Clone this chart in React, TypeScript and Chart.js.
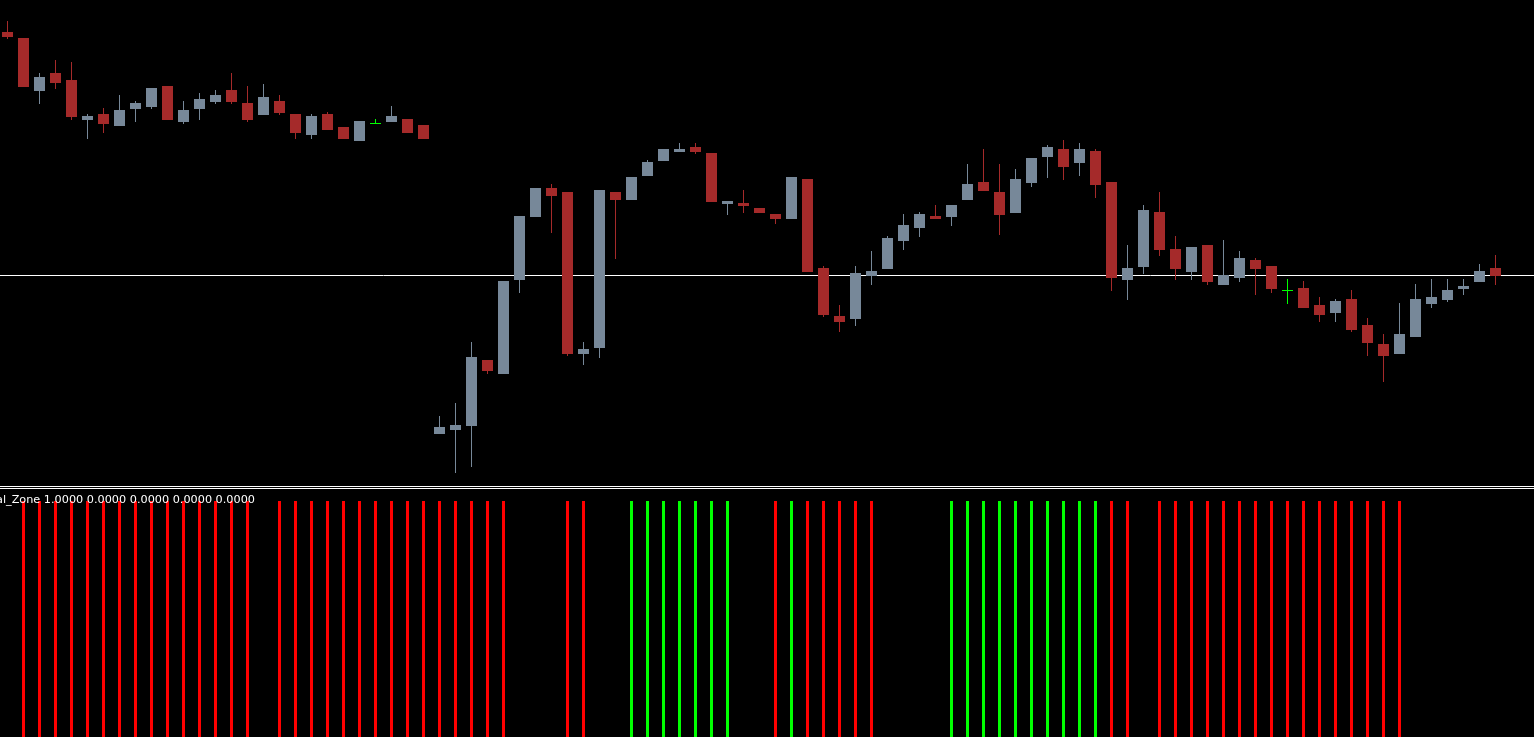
import React, { useEffect, useRef } from "react";
import { Chart, registerables } from "chart.js";

Chart.register(...registerables);

// ---- Price data (one entry per candle, oldest first) ----
const openPrices = [
  1.1244, 1.1238, 1.1185, 1.1203, 1.1196, 1.1156, 1.1162, 1.1150, 1.1167, 1.1169,
  1.1190, 1.1154, 1.1167, 1.1174, 1.1186, 1.1173, 1.1161, 1.1175, 1.1162, 1.1141,
  1.1162, 1.1149, 1.1135, 1.11525, 1.1154, 1.1157, 1.1151, 1.0842, 1.0846, 1.0850,
  1.0916, 1.0902, 1.0996, 1.1059, 1.1088, 1.1084, 1.0922, 1.0928, 1.1084, 1.1076,
  1.1100, 1.1115, 1.1124, 1.1129, 1.1123, 1.1072, 1.1073, 1.1068, 1.1062, 1.1057,
  1.1097, 1.1008, 1.0960, 1.0957, 1.1000, 1.1007, 1.1035, 1.1048, 1.1060, 1.1059,
  1.1076, 1.1094, 1.1084, 1.1063, 1.1093, 1.1119, 1.1127, 1.1113, 1.1125, 1.1094,
  1.0996, 1.1009, 1.1064, 1.1027, 1.1004, 1.1031, 1.0991, 1.0998, 1.1016, 1.1010,
  1.09855, 1.0988, 1.0971, 1.0963, 1.0977, 1.0951, 1.0932, 1.0922, 1.0939, 1.0972,
  1.0976, 1.0987, 1.0994, 1.1008,
];
const highPrices = [
  1.1255, 1.1238, 1.1203, 1.1216, 1.1214, 1.1162, 1.1168, 1.1181, 1.1175, 1.1188,
  1.1190, 1.1175, 1.1183, 1.1186, 1.1203, 1.1190, 1.1192, 1.1181, 1.1162, 1.1162,
  1.1164, 1.1149, 1.1155, 1.1157, 1.1170, 1.1157, 1.1151, 1.0860, 1.0873, 1.0934,
  1.0916, 1.0995, 1.1060, 1.1088, 1.1092, 1.1084, 1.0934, 1.1086, 1.1084, 1.1099,
  1.1116, 1.1127, 1.1133, 1.1133, 1.1123, 1.1075, 1.1086, 1.1068, 1.1062, 1.1099,
  1.1097, 1.1010, 1.0971, 1.1010, 1.1025, 1.1040, 1.1062, 1.1064, 1.1071, 1.1071,
  1.1112, 1.1127, 1.1112, 1.1107, 1.1118, 1.1131, 1.1136, 1.1133, 1.1127, 1.1094,
  1.1031, 1.1071, 1.1084, 1.1040, 1.1029, 1.1031, 1.1036, 1.1025, 1.1018, 1.1010,
  1.0997, 1.0995, 1.0979, 1.0977, 1.0986, 1.0958, 1.0942, 1.0973, 1.0992, 1.0997,
  1.0997, 1.0997, 1.1012, 1.1021,
];
const lowPrices = [
  1.1237, 1.1189, 1.1172, 1.1187, 1.1156, 1.1137, 1.1143, 1.1150, 1.1154, 1.1167,
  1.1156, 1.1152, 1.1156, 1.1172, 1.1172, 1.1154, 1.1161, 1.1161, 1.1137, 1.1137,
  1.1146, 1.1137, 1.1135, 1.1152, 1.1154, 1.1143, 1.1137, 1.0842, 1.0803, 1.0809,
  1.0902, 1.0902, 1.0983, 1.1059, 1.1043, 1.0920, 1.0911, 1.0918, 1.1017, 1.1076,
  1.1100, 1.1115, 1.1124, 1.1122, 1.1074, 1.1061, 1.1063, 1.1063, 1.1052, 1.1057,
  1.1004, 1.0959, 1.0944, 1.0950, 1.0991, 1.1007, 1.1026, 1.1039, 1.1057, 1.1050,
  1.1076, 1.1085, 1.1041, 1.1063, 1.1089, 1.1098, 1.1096, 1.1100, 1.1078, 1.0985,
  1.0976, 1.1002, 1.1020, 1.0996, 1.0996, 1.0991, 1.0991, 1.0994, 1.0981, 1.0983,
  1.0972, 1.0968, 1.0954, 1.0954, 1.0944, 1.0920, 1.0894, 1.0922, 1.0939, 1.0968,
  1.0974, 1.0981, 1.0994, 1.0991,
];
const closePrices = [
  1.1239, 1.1189, 1.1199, 1.1193, 1.1159, 1.1160, 1.1152, 1.1166, 1.1173, 1.1188,
  1.1156, 1.1166, 1.1177, 1.1181, 1.1174, 1.1156, 1.1179, 1.1163, 1.1143, 1.1160,
  1.1146, 1.1137, 1.1155, 1.11525, 1.1160, 1.1143, 1.1137, 1.0849, 1.0851, 1.0919,
  1.0905, 1.0995, 1.1060, 1.1088, 1.1080, 1.0922, 1.0927, 1.1086, 1.1076, 1.1099,
  1.1114, 1.1127, 1.1127, 1.1124, 1.1074, 1.1075, 1.1070, 1.1063, 1.1057, 1.1099,
  1.1004, 1.0961, 1.0954, 1.1003, 1.1005, 1.1038, 1.1051, 1.1062, 1.1057, 1.1071,
  1.1092, 1.1085, 1.1061, 1.1097, 1.1118, 1.1129, 1.1109, 1.1127, 1.1091, 1.0998,
  1.1008, 1.1066, 1.1026, 1.1007, 1.1029, 1.0994, 1.1001, 1.1018, 1.1007, 1.0987,
  1.09855, 1.0968, 1.0961, 1.0975, 1.0946, 1.0933, 1.0920, 1.0942, 1.0977, 1.0979,
  1.0986, 1.0990, 1.1005, 1.1000,
];

// Current bid price (horizontal line)
const bidPrice = 1.1;

// ---- Indicator buffers (1 = zone active) ----
const sellZone = [
  0, 1, 1, 1, 1, 1, 1, 1, 1, 1, 1, 1, 1, 1, 1, 1, 0, 1, 1, 1,
  1, 1, 1, 1, 1, 1, 1, 1, 1, 1, 1, 1, 0, 0, 0, 1, 1, 0, 0, 0,
  0, 0, 0, 0, 0, 0, 0, 0, 1, 0, 1, 1, 1, 1, 1, 0, 0, 0, 0, 0,
  0, 0, 0, 0, 0, 0, 0, 0, 0, 1, 1, 0, 1, 1, 1, 1, 1, 1, 1, 1,
  1, 1, 1, 1, 1, 1, 1, 1, 0, 0, 0, 0, 0, 0,
];
const buyZone = [
  0, 0, 0, 0, 0, 0, 0, 0, 0, 0, 0, 0, 0, 0, 0, 0, 0, 0, 0, 0,
  0, 0, 0, 0, 0, 0, 0, 0, 0, 0, 0, 0, 0, 0, 0, 0, 0, 0, 0, 1,
  1, 1, 1, 1, 1, 1, 0, 0, 0, 1, 0, 0, 0, 0, 0, 0, 0, 0, 0, 1,
  1, 1, 1, 1, 1, 1, 1, 1, 1, 0, 0, 0, 0, 0, 0, 0, 0, 0, 0, 0,
  0, 0, 0, 0, 0, 0, 0, 0, 0, 0, 0, 0, 0, 0,
];
const indicatorLabel = "al_Zone 1.0000 0.0000 0.0000 0.0000 0.0000";

const BULL = "#778899";
const BEAR = "#a52a2a";
const DOJI = "#00ff00";
const SELL = "#ff0000";
const BUY = "#00ff00";

const W = 1534;
const TOP_H = 486;
const BOT_TOP = 489;
const BOT_H = 248;
const X_MIN = -0.46875;
const X_MAX = X_MIN + W / 16;

export default function App() {
  const topRef = useRef<HTMLCanvasElement>(null);
  const botRef = useRef<HTMLCanvasElement>(null);

  useEffect(() => {
    document.body.style.margin = "0";
    document.body.style.background = "#000";

    const idx = openPrices.map((_, i) => i);
    const isDoji = (i: number) => openPrices[i] === closePrices[i];
    const colorOf = (i: number) =>
      isDoji(i) ? DOJI : closePrices[i] > openPrices[i] ? BULL : BEAR;

    const bodyIdx = idx.filter((i) => !isDoji(i));
    const dojiIdx = idx.filter((i) => isDoji(i));

    const bidLine = {
      id: "bidLine",
      beforeDatasetsDraw(chart: any) {
        const { ctx, chartArea, scales } = chart;
        const y = Math.round(scales.y.getPixelForValue(bidPrice)) - 0.5;
        ctx.save();
        ctx.strokeStyle = "#ffffff";
        ctx.lineWidth = 1;
        ctx.beginPath();
        ctx.moveTo(chartArea.left, y);
        ctx.lineTo(chartArea.right, y);
        ctx.stroke();
        ctx.restore();
      },
    };

    const common: any = {
      responsive: false,
      animation: false,
      events: [],
      layout: { padding: 0, autoPadding: false },
      plugins: { legend: { display: false }, tooltip: { enabled: false } },
    };

    const top = new Chart(topRef.current as HTMLCanvasElement, {
      type: "bar",
      data: {
        datasets: [
          {
            type: "bar",
            data: bodyIdx.map((i) => ({ x: i, y: [openPrices[i], closePrices[i]] })),
            backgroundColor: bodyIdx.map(colorOf),
            barThickness: 11,
            borderWidth: 0,
            inflateAmount: 0,
            grouped: false,
          } as any,
          {
            type: "bar",
            data: idx.map((i) => ({ x: i, y: [lowPrices[i], highPrices[i]] })),
            backgroundColor: idx.map(colorOf),
            barThickness: 1,
            borderWidth: 0,
            inflateAmount: 0,
            grouped: false,
          } as any,
          {
            type: "line",
            data: dojiIdx.map((i) => ({ x: i, y: openPrices[i] })),
            showLine: false,
            pointStyle: "line",
            pointRadius: 5.5,
            pointHoverRadius: 5.5,
            borderColor: DOJI,
            pointBorderColor: DOJI,
            borderWidth: 1,
            pointBorderWidth: 1,
          } as any,
        ],
      },
      options: {
        ...common,
        scales: {
          x: { type: "linear", min: X_MIN, max: X_MAX, offset: false, display: false },
          y: { type: "linear", min: 1.079, max: 1.1276, display: false },
        },
      },
      plugins: [bidLine],
    });

    const bot = new Chart(botRef.current as HTMLCanvasElement, {
      type: "bar",
      data: {
        datasets: [
          {
            data: idx.map((i) => ({ x: i, y: sellZone[i] })),
            backgroundColor: SELL,
            barThickness: 3,
            borderWidth: 0,
            inflateAmount: 0,
            grouped: false,
          } as any,
          {
            data: idx.map((i) => ({ x: i, y: buyZone[i] })),
            backgroundColor: BUY,
            barThickness: 3,
            borderWidth: 0,
            inflateAmount: 0,
            grouped: false,
          } as any,
        ],
      },
      options: {
        ...common,
        scales: {
          x: { type: "linear", min: X_MIN, max: X_MAX, offset: false, display: false },
          y: { type: "linear", min: 0, max: 1 + 12 / 236, display: false },
        },
      },
    });

    return () => {
      top.destroy();
      bot.destroy();
    };
  }, []);

  return (
    <div
      style={{
        position: "relative",
        width: W,
        height: 737,
        overflow: "hidden",
        background: "#000",
      }}
    >
      <canvas
        ref={topRef}
        width={W}
        height={TOP_H}
        style={{ position: "absolute", left: 0, top: 0, display: "block" }}
      />
      <div style={{ position: "absolute", left: 0, top: 486, width: W, height: 1, background: "#fff" }} />
      <div style={{ position: "absolute", left: 0, top: 488, width: W, height: 1, background: "#fff" }} />
      <canvas
        ref={botRef}
        width={W}
        height={BOT_H}
        style={{ position: "absolute", left: 0, top: BOT_TOP, display: "block" }}
      />
      <div
        style={{
          position: "absolute",
          left: -4,
          top: 493,
          font: '11.25px "DejaVu Sans", sans-serif',
          lineHeight: "13px",
          color: "#ffffff",
          whiteSpace: "pre",
        }}
      >
        {indicatorLabel}
      </div>
    </div>
  );
}
